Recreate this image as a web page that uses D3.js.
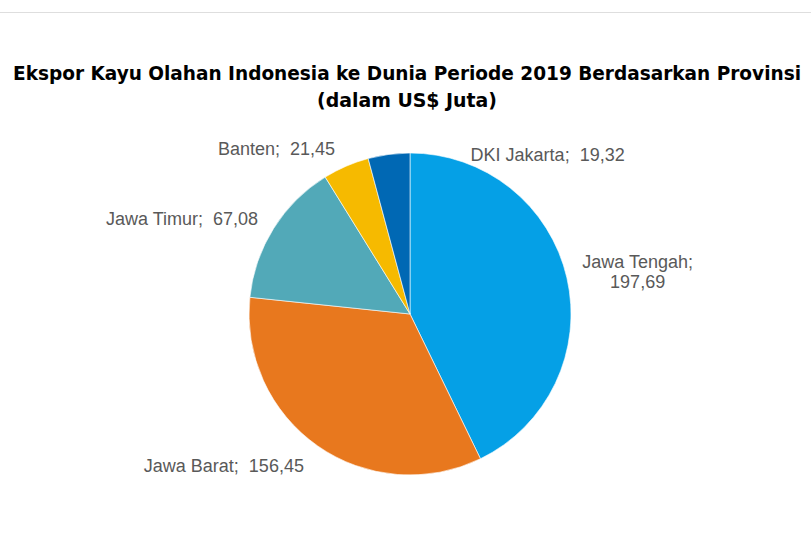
<!DOCTYPE html>
<html>
<head>
<meta charset="utf-8">
<script src="https://cdn.jsdelivr.net/npm/d3@7"></script>
<style>
  body { margin: 0; background: #fff; }
  svg { display: block; }
</style>
</head>
<body>
<script>
const width = 811, height = 541;

// data
const provinces = ["Jawa Tengah", "Jawa Barat", "Jawa Timur", "Banten", "DKI Jakarta"];
const values = [197.69, 156.45, 67.08, 21.45, 19.32];
const colors = ["#05A0E6", "#E8781E", "#52A9B8", "#F6BA00", "#0068B4"];
const titleLines = ["Ekspor Kayu Olahan Indonesia ke Dunia Periode 2019 Berdasarkan Provinsi", "(dalam US$ Juta)"];

// label nudges (px) relative to the arc's outer point
const labelNudge = [[6, -2], [-8, 13], [-7, -3], [-7, -7], [83, 11.5]];

const cx = 410, cy = 314, r = 161;

const svg = d3.select("body").append("svg")
    .attr("width", width)
    .attr("height", height);

svg.append("line")
    .attr("x1", 0).attr("x2", width)
    .attr("y1", 12.5).attr("y2", 12.5)
    .style("stroke", "#dedede")
    .style("stroke-width", 1);

const titleWidths = [788, 180];
const title = svg.append("text")
    .attr("text-anchor", "middle")
    .style("font-family", "'Liberation Sans Narrow', 'DejaVu Sans Condensed', sans-serif")
    .style("font-weight", "bold")
    .style("font-size", "20px")
    .style("fill", "#000");

title.selectAll("tspan")
    .data(titleLines)
    .enter()
    .append("tspan")
    .attr("x", 407)
    .attr("y", (d, i) => 80 + i * 27)
    .attr("textLength", (d, i) => titleWidths[i])
    .attr("lengthAdjust", "spacingAndGlyphs")
    .text(d => d);

const fmt = v => d3.format(".2f")(v).replace(".", ",");

const pie = d3.pie().sort(null).value(d => d.value);
const arcs = pie(provinces.map((p, i) => ({name: p, value: values[i], i: i})));

const arc = d3.arc().innerRadius(0).outerRadius(r);

const g = svg.append("g").attr("transform", `translate(${cx},${cy})`);

g.selectAll("path")
    .data(arcs)
    .enter()
    .append("path")
    .attr("d", arc)
    .style("fill", d => colors[d.data.i])
    .style("stroke", "#fff")
    .style("stroke-width", 0.6);

// labels
const labelR = r + 10;
const labels = g.selectAll("text.lbl")
    .data(arcs)
    .enter()
    .append("text")
    .attr("class", "lbl")
    .style("font-family", "'Liberation Sans', Arial, sans-serif")
    .style("font-size", "18px")
    .style("fill", "#595959")
    .style("white-space", "pre")
    .each(function (d) {
        let mid = (d.startAngle + d.endAngle) / 2;
        let x = labelR * Math.sin(mid) + labelNudge[d.data.i][0];
        let y = -labelR * Math.cos(mid) + labelNudge[d.data.i][1];
        let t = d3.select(this);
        if (d.data.i == 0) {
            // two line label
            t.attr("text-anchor", "middle");
            t.append("tspan").attr("x", x + 55).attr("y", y - 6).text(d.data.name + ";");
            t.append("tspan").attr("x", x + 55).attr("y", y + 14).text(fmt(d.data.value));
        } else {
            let right = Math.sin(mid) > 0 || d.data.i == 4;
            t.attr("text-anchor", right ? "start" : "end")
                .attr("x", x)
                .attr("y", y + 5)
                .text(d.data.name + ";  " + fmt(d.data.value));
        }
    });
</script>
</body>
</html>
